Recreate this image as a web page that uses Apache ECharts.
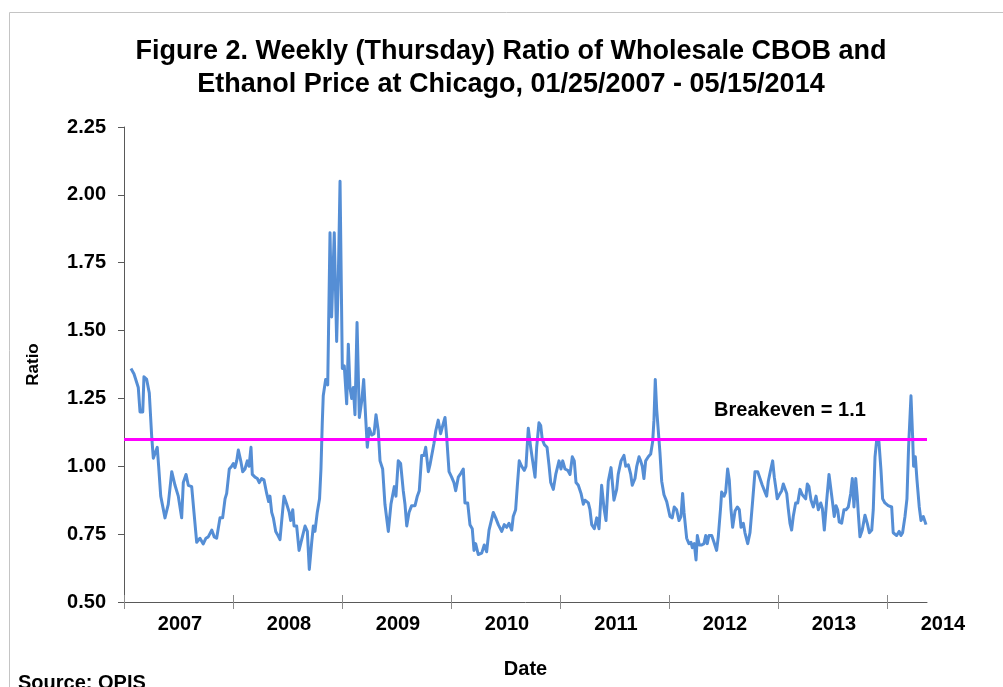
<!DOCTYPE html>
<html>
<head>
<meta charset="utf-8">
<script src="https://cdn.jsdelivr.net/npm/echarts@6/dist/echarts.min.js"></script>
<style>
html,body{margin:0;padding:0;background:#fff;}
#chart{width:1003px;height:687px;}
</style>
</head>
<body>
<div id="chart"></div>
<script>
const dates = [
2007.064,2007.092,2007.131,2007.147,2007.172,2007.183,2007.208,2007.232,2007.254,2007.269,
2007.284,2007.305,2007.318,2007.337,2007.376,2007.406,2007.438,2007.468,2007.498,2007.529,
2007.544,2007.569,2007.590,2007.621,2007.642,2007.667,2007.697,2007.727,2007.752,2007.773,
2007.805,2007.828,2007.850,2007.881,2007.905,2007.927,2007.942,2007.966,2007.988,2008.003,
2008.018,2008.034,2008.049,2008.071,2008.089,2008.110,2008.131,2008.147,2008.165,2008.177,
2008.202,2008.223,2008.241,2008.263,2008.284,2008.309,2008.327,2008.339,2008.355,2008.370,
2008.392,2008.406,2008.431,2008.447,2008.468,2008.493,2008.516,2008.529,2008.548,2008.560,
2008.584,2008.606,2008.630,2008.661,2008.682,2008.700,2008.722,2008.737,2008.752,2008.773,
2008.794,2008.807,2008.819,2008.828,2008.850,2008.869,2008.890,2008.905,2008.929,2008.951,
2008.966,2008.982,2009.003,2009.021,2009.043,2009.058,2009.073,2009.089,2009.104,2009.119,
2009.138,2009.159,2009.181,2009.199,2009.217,2009.232,2009.250,2009.272,2009.294,2009.312,
2009.333,2009.349,2009.373,2009.394,2009.425,2009.449,2009.480,2009.495,2009.516,2009.538,
2009.562,2009.578,2009.594,2009.615,2009.639,2009.670,2009.691,2009.709,2009.731,2009.752,
2009.768,2009.792,2009.807,2009.823,2009.844,2009.860,2009.883,2009.905,2009.924,2009.945,
2009.960,2009.982,2010.006,2010.027,2010.043,2010.067,2010.092,2010.113,2010.128,2010.153,
2010.174,2010.195,2010.211,2010.226,2010.250,2010.282,2010.305,2010.327,2010.349,2010.364,
2010.388,2010.410,2010.434,2010.465,2010.489,2010.511,2010.532,2010.557,2010.571,2010.593,
2010.608,2010.626,2010.648,2010.672,2010.688,2010.709,2010.731,2010.749,2010.771,2010.786,
2010.807,2010.823,2010.837,2010.856,2010.881,2010.899,2010.915,2010.939,2010.961,2010.979,
2010.991,2011.009,2011.025,2011.046,2011.071,2011.092,2011.113,2011.131,2011.147,2011.168,
2011.193,2011.214,2011.229,2011.260,2011.275,2011.291,2011.315,2011.337,2011.358,2011.382,
2011.404,2011.422,2011.443,2011.468,2011.495,2011.520,2011.534,2011.560,2011.587,2011.603,
2011.627,2011.649,2011.663,2011.688,2011.704,2011.725,2011.740,2011.755,2011.770,2011.786,
2011.810,2011.832,2011.850,2011.862,2011.874,2011.887,2011.902,2011.917,2011.933,2011.954,
2011.979,2012.009,2012.030,2012.048,2012.070,2012.092,2012.110,2012.125,2012.138,2012.162,
2012.183,2012.202,2012.214,2012.232,2012.248,2012.260,2012.278,2012.300,2012.321,2012.337,
2012.351,2012.367,2012.392,2012.413,2012.437,2012.452,2012.474,2012.483,2012.505,2012.520,
2012.538,2012.553,2012.569,2012.584,2012.606,2012.627,2012.645,2012.661,2012.682,2012.697,
2012.722,2012.743,2012.768,2012.789,2012.814,2012.835,2012.856,2012.881,2012.896,2012.911,
2012.929,2012.951,2012.966,2012.982,2012.993,2013.012,2013.034,2013.049,2013.064,2013.080,
2013.094,2013.110,2013.125,2013.140,2013.162,2013.181,2013.202,2013.223,2013.254,2013.269,
2013.284,2013.303,2013.324,2013.349,2013.370,2013.392,2013.407,2013.425,2013.447,2013.468,
2013.486,2013.501,2013.516,2013.532,2013.547,2013.562,2013.584,2013.605,2013.624,2013.645,
2013.667,2013.682,2013.697,2013.713,2013.727,2013.737,2013.752,2013.773,2013.798,2013.819,
2013.838,2013.860,2013.874,2013.890,2013.905,2013.926,2013.945,2013.960,2013.981,2014.011,
2014.043,2014.057,2014.088,2014.112,2014.128,2014.143,2014.165,2014.183,2014.198,2014.220,
2014.235,2014.244,2014.260,2014.275,2014.296,2014.312,2014.333,2014.358
];
const ratios = [
1.36,1.34,1.29,1.20,1.20,1.33,1.32,1.27,1.11,1.03,
1.03,1.07,1.00,0.89,0.81,0.86,0.98,0.93,0.89,0.81,
0.94,0.97,0.93,0.925,0.83,0.72,0.735,0.714,0.735,0.74,
0.765,0.74,0.735,0.81,0.81,0.88,0.90,0.99,1.00,1.01,
0.995,1.02,1.06,1.02,0.98,0.99,1.02,1.00,1.07,0.97,
0.96,0.955,0.94,0.955,0.95,0.90,0.87,0.89,0.83,0.81,
0.76,0.75,0.73,0.80,0.89,0.86,0.83,0.80,0.84,0.78,
0.78,0.69,0.73,0.78,0.76,0.62,0.72,0.78,0.76,0.83,
0.88,0.99,1.16,1.26,1.32,1.30,1.86,1.55,1.86,1.46,
1.69,2.05,1.36,1.37,1.23,1.45,1.29,1.25,1.29,1.19,
1.53,1.18,1.24,1.32,1.18,1.07,1.14,1.115,1.12,1.19,
1.13,1.02,0.99,0.86,0.76,0.86,0.925,0.89,1.02,1.01,
0.91,0.86,0.78,0.83,0.855,0.855,0.89,0.91,1.04,1.04,
1.07,0.98,1.005,1.00,1.085,1.13,1.17,1.12,1.15,1.18,
1.11,0.98,0.96,0.94,0.91,0.96,0.975,0.99,0.865,0.865,
0.785,0.77,0.69,0.715,0.675,0.68,0.71,0.685,0.765,0.76,
0.83,0.81,0.785,0.76,0.785,0.775,0.79,0.765,0.815,0.84,
0.925,1.02,1.00,0.985,1.00,1.14,1.07,1.02,0.96,1.07,
1.16,1.15,1.10,1.08,1.07,1.005,0.94,0.915,0.97,0.975,
1.02,0.99,1.02,0.99,0.985,0.97,1.035,1.02,0.94,0.93,
0.90,0.86,0.875,0.865,0.84,0.785,0.77,0.81,0.77,0.93,
0.845,0.80,0.945,0.995,0.875,0.915,0.97,1.02,1.04,1.00,
1.005,0.97,0.93,0.955,1.00,1.035,1.02,1.00,0.955,1.02,
1.035,1.045,1.09,1.17,1.32,1.21,1.13,1.05,0.945,0.895,
0.87,0.815,0.81,0.85,0.84,0.80,0.815,0.90,0.83,0.735,
0.715,0.72,0.70,0.715,0.655,0.745,0.71,0.71,0.715,0.745,
0.715,0.745,0.745,0.72,0.69,0.74,0.85,0.905,0.89,0.905,
0.99,0.95,0.84,0.775,0.835,0.85,0.84,0.775,0.79,0.755,
0.715,0.755,0.875,0.98,0.98,0.955,0.93,0.905,0.89,0.945,
0.98,1.02,0.96,0.915,0.88,0.895,0.91,0.935,0.93,0.90,
0.845,0.79,0.765,0.815,0.865,0.865,0.915,0.895,0.88,0.935,
0.925,0.875,0.85,0.89,0.84,0.865,0.845,0.765,0.875,0.97,
0.975,0.865,0.815,0.855,0.84,0.795,0.79,0.84,0.84,0.85,
0.90,0.955,0.85,0.955,0.89,0.825,0.74,0.765,0.82,0.79,
0.755,0.765,0.84,1.035,1.095,1.09,0.985,0.88,0.865,0.855,
0.85,0.755,0.745,0.76,0.745,0.755,0.815,0.88,1.07,1.26,
1.11,1.00,1.035,0.95,0.85,0.80,0.815,0.785
];
const yearTicks = [2007,2008,2009,2010,2011,2012,2013,2014];
const X_MIN = 2007, X_MAX = 2014.367;   // 01/01/2007 .. 05/15/2014
const yTickValues = [0.50,0.75,1.00,1.25,1.50,1.75,2.00,2.25];
const BREAKEVEN = 1.1;
const breakevenLabel = 'Breakeven = 1.1';
const breakevenLabelAt = [2013.11, 1.205];

const FONT = 'Liberation Sans, Arial, sans-serif';
const chart = echarts.init(document.getElementById('chart'), null, {renderer: 'canvas'});

chart.setOption({
  animation: false,
  backgroundColor: '#ffffff',
  title: {
    text: 'Figure 2. Weekly (Thursday) Ratio of Wholesale CBOB and\nEthanol Price at Chicago, 01/25/2007 - 05/15/2014',
    left: 506,
    textAlign: 'center',
    top: 30,
    textStyle: {fontFamily: FONT, fontSize: 27, fontWeight: 'bold', color: '#000', lineHeight: 33}
  },
  graphic: [
    {type: 'rect', left: 7, top: 10, silent: true, z: -1,
     shape: {x: 0, y: 0, width: 1020, height: 720},
     style: {fill: 'none', stroke: '#c4c4c4', lineWidth: 1}},
    {type: 'text', left: 18, top: 673, silent: true,
     style: {text: 'Source: OPIS', fill: '#000', font: 'bold 20px ' + FONT}}
  ],
  grid: {left: 124, right: 76, top: 127, bottom: 85, containLabel: false},
  xAxis: [
    {
      type: 'value', min: X_MIN, max: X_MAX, position: 'bottom',
      name: 'Date', nameLocation: 'middle', nameGap: 57,
      nameTextStyle: {fontFamily: FONT, fontSize: 20, fontWeight: 'bold', color: '#000'},
      axisLine: {show: true, lineStyle: {color: '#595959', width: 1}},
      axisTick: {show: true, inside: false, length: 7, customValues: yearTicks, lineStyle: {color: '#8c8c8c'}},
      axisLabel: {
        show: true, margin: 12, customValues: yearTicks,
        formatter: v => '{a|' + Math.round(v) + '}',
        rich: {a: {padding: [0, 0, 0, 112], fontFamily: FONT, fontSize: 20, fontWeight: 'bold', color: '#000'}}
      },
      splitLine: {show: false}
    },
    {
      type: 'value', min: X_MIN, max: X_MAX, position: 'top', offset: -475,
      axisLine: {show: false},
      axisTick: {show: true, inside: false, length: 7, customValues: yearTicks, lineStyle: {color: '#8c8c8c'}},
      axisLabel: {show: false},
      splitLine: {show: false}
    }
  ],
  yAxis: {
    type: 'value', min: 0.5, max: 2.25, interval: 0.25,
    name: 'Ratio', nameLocation: 'middle', nameGap: 82, nameRotate: 90,
    nameTextStyle: {fontFamily: FONT, fontSize: 17, fontWeight: 'bold', color: '#000'},
    axisLine: {show: true, lineStyle: {color: '#595959', width: 1}},
    axisTick: {show: true, inside: false, length: 6, customValues: yTickValues, lineStyle: {color: '#595959'}},
    axisLabel: {margin: 18, formatter: v => v.toFixed(2),
      fontFamily: FONT, fontSize: 20, fontWeight: 'bold', color: '#000'},
    splitLine: {show: false}
  },
  series: [{
    type: 'line',
    xAxisIndex: 0,
    data: dates.map((d, i) => [d, ratios[i]]),
    showSymbol: false,
    symbol: 'none',
    lineStyle: {color: '#558ed5', width: 3, join: 'round'},
    itemStyle: {color: '#558ed5'},
    markLine: {
      silent: true, symbol: ['none', 'none'],
      lineStyle: {color: '#ff00ff', width: 3, type: 'solid'},
      label: {show: false},
      data: [{yAxis: BREAKEVEN}]
    },
    markPoint: {
      silent: true, symbol: 'circle', symbolSize: 1,
      itemStyle: {color: 'rgba(0,0,0,0)'},
      label: {show: true, position: 'inside', formatter: breakevenLabel,
        fontFamily: FONT, fontSize: 20, fontWeight: 'bold', color: '#000'},
      data: [{coord: breakevenLabelAt}]
    }
  }]
});
</script>
</body>
</html>
